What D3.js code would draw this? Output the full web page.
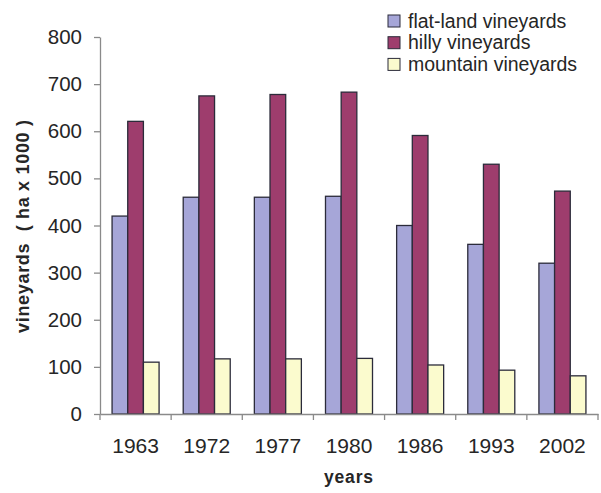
<!DOCTYPE html>
<html>
<head>
<meta charset="utf-8">
<script src="https://cdn.jsdelivr.net/npm/d3@7/dist/d3.min.js"></script>
<style>
  html, body { margin: 0; padding: 0; background: #fff; }
  svg { display: block; font-family: "Liberation Sans", Arial, sans-serif; }
</style>
</head>
<body>
<svg id="chart" width="601" height="493"></svg>
<script>
// Vineyard area by terrain type (ha x 1000)
const years = ["1963", "1972", "1977", "1980", "1986", "1993", "2002"];
const seriesNames = ["flat-land vineyards", "hilly vineyards", "mountain vineyards"];
const flatLand = [420, 460, 460, 462, 400, 360, 320];
const hilly = [621, 675, 678, 683, 591, 530, 473];
const mountain = [110, 117, 117, 118, 104, 93, 81];
const yTicks = [0, 100, 200, 300, 400, 500, 600, 700, 800];

const colors = ["#a6a6d8", "#9e3d6d", "#fbfbce"];
const seriesValues = [flatLand, hilly, mountain];

const svg = d3.select("#chart");
const plotLeft = 100, plotRight = 598, plotTop = 37, plotBottom = 414;
const axisGrey = "#8a8a8a", textColor = "#262626", barEdge = "#2b2b3a";

const x = d3.scaleBand().domain(years).range([plotLeft, plotRight]).paddingInner(0).paddingOuter(0);
const inner = d3.scaleBand().domain(d3.range(seriesNames.length))
  .range([0, x.bandwidth()]).paddingInner(0).paddingOuter(0.77);
const y = d3.scaleLinear().domain([0, 800]).range([plotBottom, plotTop]);

// y axis
const yAxis = svg.append("g")
  .attr("transform", `translate(${plotLeft},0)`)
  .call(d3.axisLeft(y).tickValues(yTicks).tickSize(6).tickPadding(12).tickSizeOuter(0));
yAxis.select(".domain").attr("stroke", axisGrey).attr("stroke-width", 1.3);
yAxis.selectAll(".tick line").attr("stroke", axisGrey).attr("stroke-width", 1.3);
yAxis.selectAll(".tick text").attr("font-size", 20.5).attr("fill", textColor)
  .attr("font-family", "Liberation Sans, Arial, sans-serif");

// bars
const groups = svg.append("g").selectAll("g")
  .data(years)
  .join("g")
  .attr("transform", d => `translate(${x(d)},0)`);

groups.selectAll("rect")
  .data((d, i) => seriesValues.map((vals, s) => ({ s, v: vals[i] })))
  .join("rect")
  .attr("x", d => inner(d.s))
  .attr("width", inner.bandwidth())
  .attr("y", d => y(d.v))
  .attr("height", d => y(0) - y(d.v))
  .attr("fill", d => colors[d.s])
  .attr("stroke", barEdge)
  .attr("stroke-width", 1.3);

// x axis
const xAxis = svg.append("g")
  .attr("transform", `translate(0,${plotBottom})`)
  .call(d3.axisBottom(x).tickSize(0).tickPadding(24));
xAxis.select(".domain").attr("stroke", axisGrey).attr("stroke-width", 1.3);
xAxis.selectAll(".tick text").attr("font-size", 21).attr("fill", textColor)
  .attr("font-family", "Liberation Sans, Arial, sans-serif");
// tick marks between categories
const boundaries = years.map(d => x(d)).concat([x(years[years.length - 1]) + x.bandwidth()]);
svg.append("g").selectAll("line")
  .data(boundaries)
  .join("line")
  .attr("x1", d => d).attr("x2", d => d)
  .attr("y1", plotBottom).attr("y2", plotBottom + 6)
  .attr("stroke", axisGrey).attr("stroke-width", 1.3);

// axis titles
svg.append("text")
  .attr("transform", "translate(29,226.5) rotate(-90)")
  .attr("text-anchor", "middle")
  .attr("font-size", 18).attr("font-weight", "bold").attr("fill", textColor)
  .attr("textLength", 213).attr("lengthAdjust", "spacing")
  .style("white-space", "pre")
  .text("vineyards  ( ha x 1000 )");

svg.append("text")
  .attr("x", 348.5)
  .attr("y", 483)
  .attr("text-anchor", "middle")
  .attr("font-size", 17.5).attr("font-weight", "bold").attr("fill", textColor)
  .attr("textLength", 49).attr("lengthAdjust", "spacing")
  .text("years");

// legend
const legend = svg.append("g").attr("transform", "translate(388,15)");
const rows = legend.selectAll("g")
  .data(seriesNames)
  .join("g")
  .attr("transform", (d, i) => `translate(0,${i * 21.7})`);
rows.append("rect")
  .attr("width", 12).attr("height", 12)
  .attr("fill", (d, i) => colors[i])
  .attr("stroke", barEdge).attr("stroke-width", 1);
rows.append("text")
  .attr("x", 20).attr("y", 12.5)
  .attr("font-size", 19.5).attr("fill", textColor)
  .text(d => d);
</script>
</body>
</html>
